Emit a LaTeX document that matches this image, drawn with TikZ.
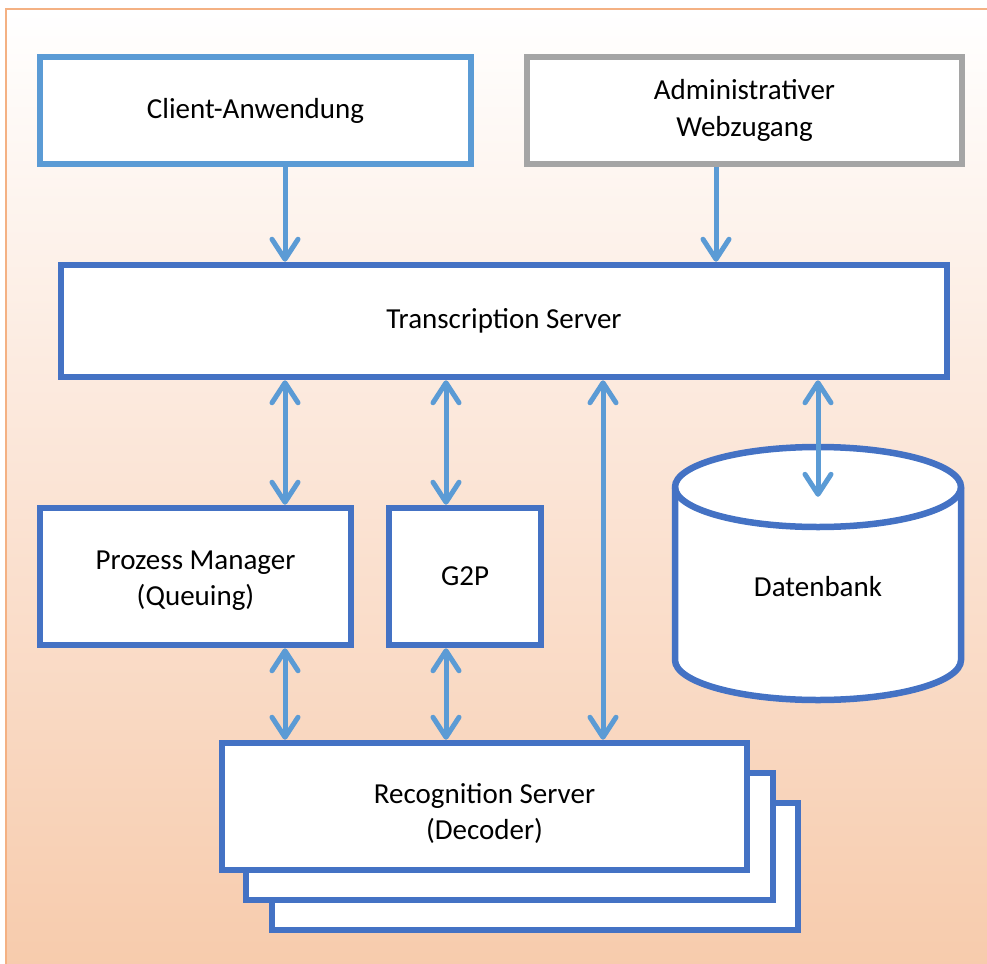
\documentclass[tikz,border=0pt]{standalone}
\usepackage{fontspec}
\setmainfont{Carlito}
\usetikzlibrary{arrows.meta,calc}
\definecolor{lblue}{RGB}{91,155,213}
\definecolor{dblue}{RGB}{68,114,196}
\definecolor{gborder}{RGB}{165,165,165}
\definecolor{oborder}{RGB}{244,177,131}
\definecolor{peach}{RGB}{247,203,172}
\definecolor{peachmid}{RGB}{251,228,213}
\tikzset{
  box/.style={draw, line width=6.5pt, fill=white, inner sep=0pt, align=center,
    font=\fontsize{29}{37}\selectfont},
  lbl/.style={inner sep=0pt, align=center, font=\fontsize{29}{36}\selectfont},
  arr/.style={draw=lblue, line width=5pt,
    -{Straight Barb[length=20pt,width=26pt,line cap=round,line join=round]}},
  darr/.style={draw=lblue, line width=5pt,
    {Straight Barb[length=20pt,width=26pt,line cap=round,line join=round]}-{Straight Barb[length=20pt,width=26pt,line cap=round,line join=round]}},
}
\begin{document}
\begin{tikzpicture}[x=1pt,y=-1pt]
\useasboundingbox (0,0) rectangle (987,963);
% background frame
\shade[top color=white, bottom color=peach, middle color=peachmid] (6,9) rectangle (995,970);
\draw[oborder, line width=2.2pt] (6,975) -- (6,9) -- (995,9);
% coordinates for arrow columns
\coordinate (c1) at (285,0);
\coordinate (c2) at (446,0);
\coordinate (c3) at (603,0);
\coordinate (c4) at (818,0);
\coordinate (c5) at (716,0);
% nodes
\node[box, draw=lblue, minimum width=431pt, minimum height=107pt] (client) at (255.5,110.5) {Client-Anwendung};
\node[box, draw=gborder, minimum width=435pt, minimum height=107pt] (admin) at (744.5,110.5) {Administrativer\\Webzugang};
\node[box, draw=dblue, minimum width=886pt, minimum height=112pt] (ts) at (504,321) {Transcription Server};
\node[box, draw=dblue, minimum width=311pt, minimum height=137pt] (pm) at (195.5,576.5) {};
\node[lbl] (pmtext) at (195.5,580.5) {Prozess Manager\\(Queuing)};
\node[box, draw=dblue, minimum width=152pt, minimum height=137pt] (g2p) at (465,576.5) {G2P};
% recognition stack
\node[box, draw=dblue, minimum width=526pt, minimum height=127pt] (rs3) at (535,866.5) {};
\node[box, draw=dblue, minimum width=527pt, minimum height=127pt] (rs2) at (509.5,836.5) {};
\node[box, draw=dblue, minimum width=525pt, minimum height=127pt] (rs) at (484.5,806.5) {};
\node[lbl] (rstext) at (484.5,813) {Recognition Server\\(Decoder)};
% database cylinder
\draw[dblue, line width=6.5pt, fill=white]
  (675,487) -- (675,660) arc[start angle=180, end angle=0, x radius=143, y radius=40]
  -- (961,487) arc[start angle=0, end angle=-180, x radius=143, y radius=40] -- cycle;
\draw[dblue, line width=6.5pt] (675,487) arc[start angle=180, end angle=0, x radius=143, y radius=40];
\node[inner sep=0pt, minimum width=286pt, minimum height=253pt, font=\fontsize{29}{37}\selectfont] (db) at (818,573.5) {};
\node[lbl] (dbtext) at (818,587) {Datenbank};
% arrows
\draw[arr] (client.south -| c1) -- (ts.north -| c1);
\draw[arr] (admin.south -| c5) -- (ts.north -| c5);
\draw[darr] (ts.south -| c1) -- (pm.north -| c1);
\draw[darr] (ts.south -| c2) -- (g2p.north -| c2);
\draw[darr] (ts.south -| c3) -- (rs.north -| c3);
\draw[darr] (ts.south -| c4) -- ($(db.north -| c4)+(0,50)$);
\draw[darr] (pm.south -| c1) -- (rs.north -| c1);
\draw[darr] (g2p.south -| c2) -- (rs.north -| c2);
\end{tikzpicture}
\end{document}
